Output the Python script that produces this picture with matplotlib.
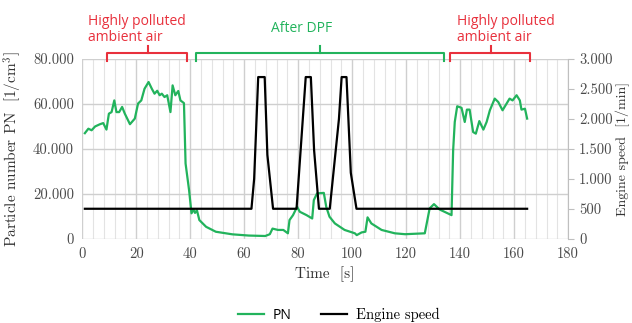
import matplotlib
matplotlib.use("Agg")
import matplotlib.pyplot as plt
from matplotlib.ticker import FuncFormatter, MultipleLocator
from matplotlib.lines import Line2D

plt.rcParams['mathtext.fontset'] = 'cm'
plt.rcParams['axes.unicode_minus'] = False

# ---- data ----
pn_time = [1, 2.3, 3.5, 4.8, 6.6, 7.8, 9, 9.9, 10.9, 11.9, 12.7, 13.7, 14.8, 15.8, 17.7,
           19.5, 20.7, 21.9, 23.1, 24.6, 25.8, 26.8, 27.8, 28.7, 29.5, 30.5, 31.5, 32.7,
           33.5, 34.5, 35.6, 36.4, 37.7, 38.3, 39.6, 40.5, 41.2, 41.8, 42.5, 43.4, 45.9,
           49.5, 55.6, 61.7, 67.8, 69.5, 70.5, 72.5, 74.5, 76.2, 76.8, 78.1, 79.6, 80.6,
           83.1, 85.2, 85.8, 87, 89.5, 90.4, 91.6, 93.6, 97.2, 101, 101.7, 103.5, 104.9,
           105.7, 107.1, 110.9, 115.8, 119.6, 126.9, 128.7, 130.3, 132.4, 136.8, 137.4,
           138, 138.9, 140.5, 141.7, 142.5, 143.5, 144.8, 145.8, 147.1, 148.6, 149.8, 151,
           152.8, 154.1, 155.7, 157.2, 158.3, 159.4, 160.9, 162.1, 162.7, 164, 164.8]
pn_values = [47000, 49000, 48300, 50000, 51000, 51500, 48600, 55700, 56400, 61600, 56400,
             56400, 58700, 55700, 51000, 53500, 60200, 61600, 66800, 69800, 66800, 64600,
             65900, 63900, 64600, 63100, 63900, 56400, 68300, 63900, 65800, 61600, 60400,
             33500, 21600, 11300, 13000, 11500, 12700, 8300, 5300, 3100, 1950, 1400, 1200,
             2000, 4500, 3900, 3900, 2400, 8300, 10500, 14200, 12000, 10500, 9000, 17200,
             20200, 20400, 14200, 9800, 6800, 3900, 2400, 1600, 2800, 3100, 9500, 6800,
             3900, 2400, 2000, 2400, 13500, 15400, 13000, 10500, 39400, 52000, 59000,
             58300, 52000, 57500, 57500, 47500, 46800, 52400, 48600, 52000, 57200, 62400,
             60900, 57200, 60200, 62400, 61600, 63900, 61600, 57500, 57900, 53500]

es_time = [1, 62.7, 63.7, 65.2, 67.6, 68.6, 70.7, 79.4, 82.8, 84.7, 85.9, 87.7,
           91.7, 95.1, 96.1, 97.9, 99.5, 101.6, 164.8]
es_values = [500, 500, 1000, 2700, 2700, 1400, 500, 500, 2700, 2700, 1480, 500,
             500, 2000, 2700, 2700, 1100, 500, 500]

left_ticks = [0, 20000, 40000, 60000, 80000]
right_ticks = [0, 500, 1000, 1500, 2000, 2500, 3000]
x_ticks = [0, 20, 40, 60, 80, 100, 120, 140, 160, 180]

GREEN = '#22b35c'
RED = '#e8303c'
SERIF = 'cmr10'
SANS = 'Open Sans'
TICKC = '#4a4a4a'

def dotted(v, pos=None):
    return f"{int(v):,}".replace(",", ".")

fig = plt.figure(figsize=(6.32, 3.23), dpi=100)
ax = fig.add_axes([0.130, 0.261, 0.769, 0.556])
ax2 = ax.twinx()

ax.set_xlim(0, 180)
ax.set_ylim(0, 80000)
ax2.set_ylim(0, 3000)

ax.set_xticks(x_ticks)
ax.xaxis.set_minor_locator(MultipleLocator(4))
ax.set_yticks(left_ticks)
ax2.set_yticks(right_ticks)
ax.yaxis.set_major_formatter(FuncFormatter(dotted))
ax2.yaxis.set_major_formatter(FuncFormatter(dotted))

ax.grid(True, which='major', axis='both', color='#cfcfcf', lw=1.0)
ax.grid(True, which='minor', axis='x', color='#e3e3e3', lw=0.8)
ax.set_axisbelow(True)

for sp in ['top', 'left', 'right', 'bottom']:
    ax.spines[sp].set_visible(False)
for sp in ['top', 'left', 'bottom']:
    ax2.spines[sp].set_visible(False)
ax2.spines['right'].set_color('#bfbfbf')

ax.tick_params(axis='both', which='both', length=0, labelsize=10.5, pad=6, colors=TICKC)
ax2.tick_params(axis='y', length=4, labelsize=10.5, pad=4, colors=TICKC)
ax2.tick_params(axis='y', color='#bfbfbf')
for lab in ax.get_xticklabels() + ax.get_yticklabels() + ax2.get_yticklabels():
    lab.set_fontfamily(SERIF)

ax.plot(pn_time, pn_values, color=GREEN, lw=1.6, zorder=3)
ax2.plot(es_time, es_values, color='black', lw=1.6, zorder=3)

ax.set_xlabel('Time  [s]', fontfamily=SERIF, fontsize=11, labelpad=4, color='#333333')
ax.set_ylabel(r'Particle number PN  [1/cm$^3$]', fontfamily=SERIF, fontsize=11,
              labelpad=6, color='#333333')
ax2.set_ylabel('Engine speed  [1/min]', fontfamily=SERIF, fontsize=10, labelpad=2,
               color='#333333')

# brackets
tr = ax.get_xaxis_transform()
def bracket(x0, x1, xc, color):
    ax.plot([x0, x0, x1, x1], [0.989, 1.033, 1.033, 0.989], color=color, lw=1.5,
            transform=tr, clip_on=False)
    ax.plot([xc, xc], [1.033, 1.072], color=color, lw=1.5, transform=tr, clip_on=False)

bracket(9.2, 39.0, 24.3, RED)
bracket(42.3, 134.0, 88.2, GREEN)
bracket(136.2, 165.9, 151.6, RED)

ax.text(0.0117, 1.165, 'Highly polluted\nambient air', transform=ax.transAxes,
        ha='left', va='center', color=RED, fontsize=10, fontfamily=SANS, linespacing=1.05)
ax.text(0.452, 1.172, 'After DPF', transform=ax.transAxes, ha='center', va='center',
        color=GREEN, fontsize=10, fontfamily=SANS)
ax.text(0.771, 1.165, 'Highly polluted\nambient air', transform=ax.transAxes,
        ha='left', va='center', color=RED, fontsize=10, fontfamily=SANS, linespacing=1.05)

handles = [Line2D([], [], color=GREEN, lw=1.6), Line2D([], [], color='black', lw=1.6)]
leg = ax.legend(handles, ['PN', 'Engine speed'], loc='center', bbox_to_anchor=(0.528, -0.425),
                ncol=2, frameon=False, fontsize=10.5, handlelength=1.8, columnspacing=2.0,
                handletextpad=0.6)
leg.get_texts()[0].set_fontfamily(SANS)
leg.get_texts()[0].set_fontsize(10)
leg.get_texts()[1].set_fontfamily(SERIF)

fig.savefig('out.png', dpi=100)
